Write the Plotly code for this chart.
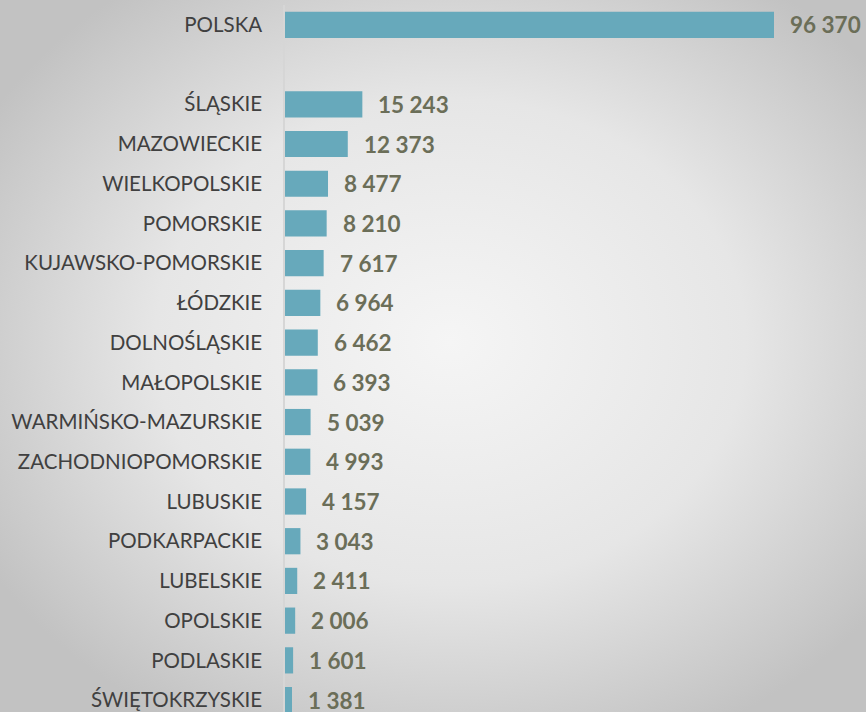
import base64
import plotly.graph_objects as go

regions = ["POLSKA", "ŚLĄSKIE", "MAZOWIECKIE", "WIELKOPOLSKIE", "POMORSKIE",
           "KUJAWSKO-POMORSKIE", "ŁÓDZKIE", "DOLNOŚLĄSKIE", "MAŁOPOLSKIE",
           "WARMIŃSKO-MAZURSKIE", "ZACHODNIOPOMORSKIE", "LUBUSKIE", "PODKARPACKIE",
           "LUBELSKIE", "OPOLSKIE", "PODLASKIE", "ŚWIĘTOKRZYSKIE"]
values = [96370, 15243, 12373, 8477, 8210, 7617, 6964, 6462, 6393,
          5039, 4993, 4157, 3043, 2411, 2006, 1601, 1381]

# POLSKA at slot 0, an empty slot, then the voivodeships
positions = [0] + list(range(2, 2 + len(regions) - 1))

def fmt(v):
    return f"{v:,}".replace(",", " ")

svg = """<svg xmlns='http://www.w3.org/2000/svg' width='866' height='712'>
<defs><radialGradient id='g' cx='52%' cy='48%' r='62%'>
<stop offset='0%' stop-color='#f5f5f5'/>
<stop offset='55%' stop-color='#e6e6e6'/>
<stop offset='100%' stop-color='#c2c2c2'/>
</radialGradient></defs>
<rect width='866' height='712' fill='url(#g)'/></svg>"""
bg = "data:image/svg+xml;base64," + base64.b64encode(svg.encode()).decode()

fig = go.Figure(go.Bar(
    x=values, y=positions, orientation="h",
    marker=dict(color="#67a9bb", line=dict(width=0)),
    width=0.66, hoverinfo="skip",
))

for v, p in zip(values, positions):
    fig.add_annotation(x=v, y=p, text=f"<b>{fmt(v)}</b>", showarrow=False,
                       xanchor="left", xshift=14,
                       font=dict(family="Lato", size=22.5, color="#6b6e58"))

fig.update_layout(
    width=866, height=712,
    margin=dict(l=285, r=0, t=5, b=0),
    paper_bgcolor="#dcdcdc", plot_bgcolor="rgba(0,0,0,0)",
    images=[dict(source=bg, xref="paper", yref="paper", x=-285/581, y=1 + 5/707,
                 sizex=866/581, sizey=712/707, xanchor="left", yanchor="top",
                 sizing="stretch", layer="below")],
    showlegend=False,
    xaxis=dict(range=[0, 114500], visible=False, fixedrange=True),
    yaxis=dict(range=[17.3, -0.5], tickmode="array", tickvals=positions,
               ticktext=regions, showgrid=False, zeroline=False,
               showline=True, linecolor="#d6d6d6", linewidth=1.5,
               ticks="", ticklabelstandoff=17,
               tickfont=dict(family="Lato", size=20.5, color="#404040")),
)

fig.write_html("out.html", config={"displayModeBar": False},
               post_script="document.body.style.margin='0';document.body.style.overflow='hidden';")
